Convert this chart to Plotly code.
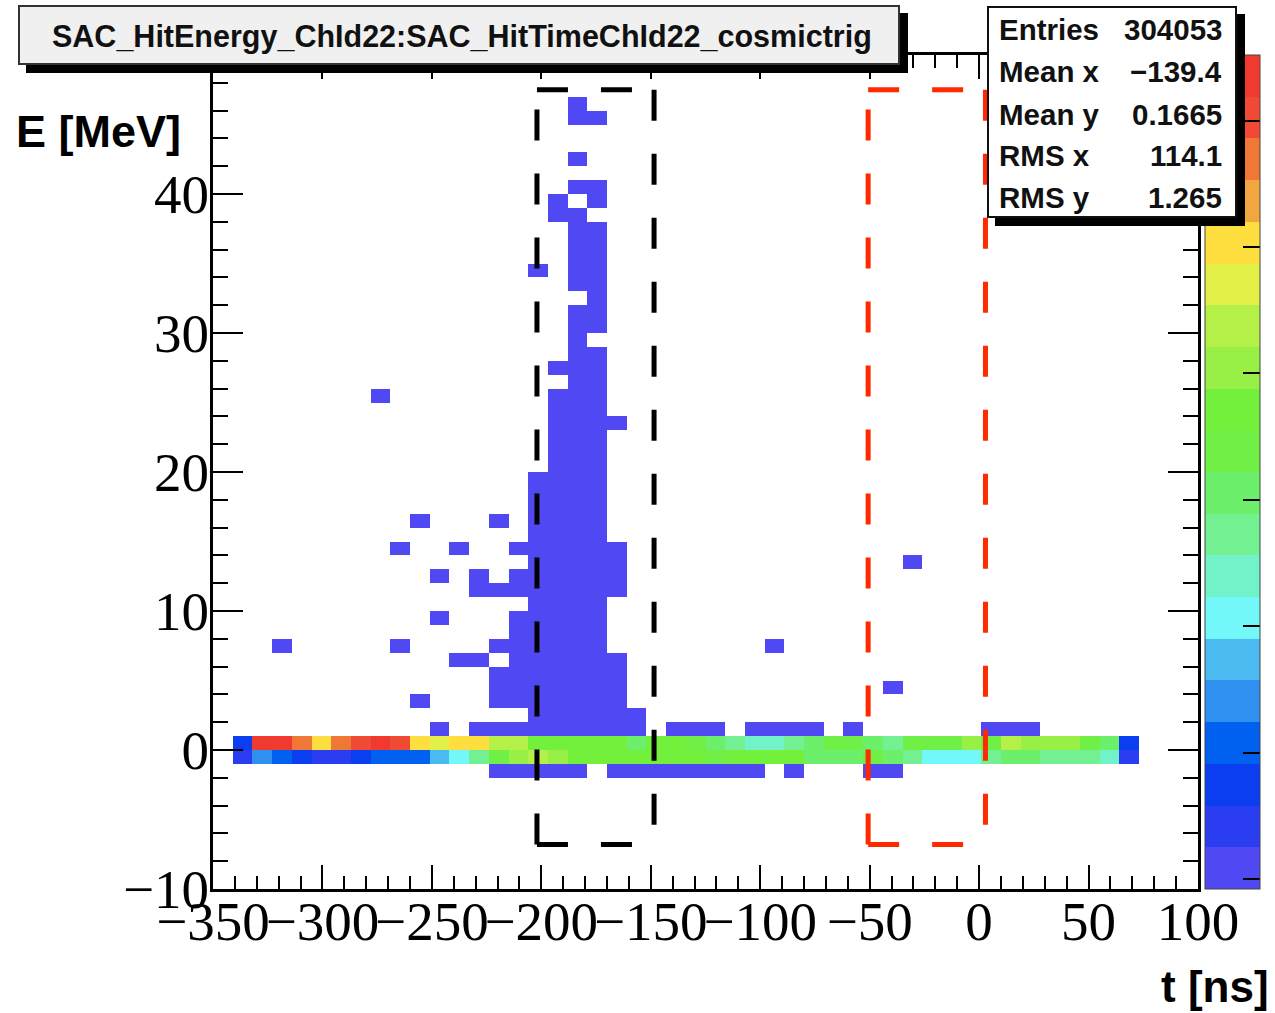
import numpy as np
import plotly.graph_objects as go

# ---------------- histogram definition ----------------
T_MIN, T_MAX, T_NBINS = -350.0, 100.0, 50      # t [ns]
E_MIN, E_MAX, E_NBINS = -10.0, 50.0, 60        # E [MeV]

# filled time bins (bin centers, ns) of the two dense energy rows
dense_t = [-336.5, -327.5, -318.5, -309.5, -300.5, -291.5, -282.5, -273.5, -264.5, -255.5,
           -246.5, -237.5, -228.5, -219.5, -210.5, -201.5, -192.5, -183.5, -174.5, -165.5,
           -156.5, -147.5, -138.5, -129.5, -120.5, -111.5, -102.5, -93.5, -84.5, -75.5,
           -66.5, -57.5, -48.5, -39.5, -30.5, -21.5, -12.5, -3.5, 5.5, 14.5,
           23.5, 32.5, 41.5, 50.5, 59.5, 68.5]

# counts in row 0 < E < 1 MeV
counts_E_0_1 = [810, 6480, 6420, 5760, 5090, 5800, 6110, 6440, 6150, 5140,
                4790, 5100, 5060, 4470, 4420, 3790, 3820, 3770, 3840, 3780,
                3160, 3810, 3750, 3480, 3140, 2810, 2470, 2500, 2790, 3170,
                3450, 3490, 3130, 2830, 3470, 3440, 3500, 4140, 3460, 4460,
                4110, 4150, 4120, 3480, 3160, 830]

# counts in row -1 < E < 0 MeV
counts_E_m1_0 = [490, 1480, 1160, 830, 510, 520, 800, 1140, 1170, 1130,
                 1820, 2140, 2810, 3450, 4120, 4440, 4150, 3800, 3770, 3830,
                 3790, 3810, 3760, 3800, 3470, 3820, 3780, 3790, 3810, 3150,
                 3130, 3170, 3440, 3160, 2820, 2160, 2130, 2170, 2790, 3140,
                 3180, 2800, 2830, 2780, 2490, 480]

# sparse cells (one entry each): energy row centre [MeV] and the time-bin centres [ns] hit in that row
sparse_E_rows = [46.5, 45.5, 42.5, 40.5, 39.5, 38.5, 37.5, 36.5, 35.5, 34.5,
                 33.5, 32.5, 31.5, 30.5, 29.5, 28.5, 27.5, 26.5, 25.5, 24.5,
                 23.5, 22.5, 21.5, 20.5, 19.5, 18.5, 17.5, 16.5, 15.5, 14.5,
                 13.5, 12.5, 11.5, 10.5, 9.5, 8.5, 7.5, 6.5, 5.5, 4.5,
                 3.5, 2.5, 1.5, -1.5]
sparse_t_rows = [
    [-183.5],
    [-183.5, -174.5],
    [-183.5],
    [-183.5, -174.5],
    [-192.5, -174.5],
    [-192.5, -183.5],
    [-183.5, -174.5],
    [-183.5, -174.5],
    [-183.5, -174.5],
    [-201.5, -183.5, -174.5],
    [-183.5, -174.5],
    [-174.5],
    [-183.5, -174.5],
    [-183.5, -174.5],
    [-183.5],
    [-183.5, -174.5],
    [-192.5, -183.5, -174.5],
    [-183.5, -174.5],
    [-273.5, -192.5, -183.5, -174.5],
    [-192.5, -183.5, -174.5],
    [-192.5, -183.5, -174.5, -165.5],
    [-192.5, -183.5, -174.5],
    [-192.5, -183.5, -174.5],
    [-192.5, -183.5, -174.5],
    [-201.5, -192.5, -183.5, -174.5],
    [-201.5, -192.5, -183.5, -174.5],
    [-201.5, -192.5, -183.5, -174.5],
    [-255.5, -219.5, -201.5, -192.5, -183.5, -174.5],
    [-201.5, -192.5, -183.5, -174.5],
    [-264.5, -237.5, -210.5, -201.5, -192.5, -183.5, -174.5, -165.5],
    [-201.5, -192.5, -183.5, -174.5, -165.5, -30.5],
    [-246.5, -228.5, -210.5, -201.5, -192.5, -183.5, -174.5, -165.5],
    [-228.5, -219.5, -210.5, -201.5, -192.5, -183.5, -174.5, -165.5],
    [-201.5, -192.5, -183.5, -174.5],
    [-246.5, -210.5, -201.5, -192.5, -183.5, -174.5],
    [-210.5, -201.5, -192.5, -183.5, -174.5],
    [-318.5, -264.5, -219.5, -210.5, -201.5, -192.5, -183.5, -174.5, -93.5],
    [-237.5, -228.5, -210.5, -201.5, -192.5, -183.5, -174.5, -165.5],
    [-219.5, -210.5, -201.5, -192.5, -183.5, -174.5, -165.5],
    [-219.5, -210.5, -201.5, -192.5, -183.5, -174.5, -165.5, -39.5],
    [-255.5, -219.5, -210.5, -201.5, -192.5, -183.5, -174.5, -165.5],
    [-201.5, -192.5, -183.5, -174.5, -165.5, -156.5],
    [-246.5, -228.5, -219.5, -210.5, -201.5, -192.5, -183.5, -174.5, -165.5, -156.5,
     -138.5, -129.5, -120.5, -102.5, -93.5, -84.5, -75.5, -57.5, 5.5, 14.5, 23.5],
    [-219.5, -210.5, -201.5, -192.5, -183.5, -165.5, -156.5, -147.5, -138.5, -129.5,
     -120.5, -111.5, -102.5, -84.5, -48.5, -39.5],
]

# highlighted time windows (overlay boxes): [t_lo, t_hi] in ns, [E_lo, E_hi] in MeV
box_black_t = [-202.0, -148.5]
box_red_t = [-50.7, 2.9]
box_E = [-6.8, 47.5]

y_tick_values = [-10, 0, 10, 20, 30, 40]
stats_labels = ["Entries", "Mean x", "Mean y", "RMS x", "RMS y"]
stats_values = ["304053", "\u2212139.4", "0.1665", "114.1", "1.265"]
title_text = "SAC_HitEnergy_ChId22:SAC_HitTimeChId22_cosmictrig"

# palette: 20 contour levels (bottom -> top)
palette = ["#5048F2", "#2A3DF0", "#0A3EF0", "#0060F0", "#3090F0", "#4ABAF0", "#72F8F8",
           "#72F2C8", "#72F092", "#6CF06C", "#70F046", "#72F03C", "#98F046", "#B4F048",
           "#E2F048", "#FFDF40", "#F2A640", "#F07836", "#F04A34", "#F03A30"]
Z_MAX = 6600

# ---------------- build the 2D histogram ----------------
t_edges = np.linspace(T_MIN, T_MAX, T_NBINS + 1)
e_edges = np.linspace(E_MIN, E_MAX, E_NBINS + 1)
t_cent = 0.5 * (t_edges[:-1] + t_edges[1:])
e_cent = 0.5 * (e_edges[:-1] + e_edges[1:])

ht, he, hw = [], [], []
for t, c in zip(dense_t, counts_E_0_1):
    ht.append(t); he.append(0.5); hw.append(c)
for t, c in zip(dense_t, counts_E_m1_0):
    ht.append(t); he.append(-0.5); hw.append(c)
for e, ts in zip(sparse_E_rows, sparse_t_rows):
    for t in ts:
        ht.append(t); he.append(e); hw.append(1)

H, _, _ = np.histogram2d(he, ht, bins=[e_edges, t_edges], weights=hw)
Z = np.where(H > 0, H, np.nan)

cs = []
n = len(palette)
for k, col in enumerate(palette):
    cs.append([k / n, col])
    cs.append([(k + 1) / n, col])

# ---------------- figure ----------------
W, HGT = 1275, 1013
L, R, T, B = 213, 1198, 55, 889


def px(x):
    return (x - L) / (R - L)


def py(y):
    return (B - y) / (B - T)


fig = go.Figure()
fig.add_trace(go.Heatmap(
    x=t_cent, y=e_cent, z=Z, zmin=0, zmax=Z_MAX, colorscale=cs, hoverinfo="skip",
    colorbar=dict(x=px(1205), xanchor="left", thickness=55, len=1, lenmode="fraction",
                  y=0.5, yanchor="middle", ypad=0, xpad=0,
                  outlinewidth=1, outlinecolor="#444",
                  ticks="inside", ticklen=17, tickwidth=2, tickcolor="black",
                  tick0=80, dtick=1000, showticklabels=False),
))

axis_common = dict(showline=True, linecolor="black", linewidth=3, mirror="ticks",
                   ticks="inside", tickcolor="black", tickwidth=2,
                   showgrid=False, zeroline=False, automargin=False, tickangle=0,
                   tickfont=dict(family="Liberation Serif", size=55, color="black"))

fig.update_xaxes(range=[T_MIN, T_MAX], tick0=0, dtick=50, ticklen=24,
                 ticklabelstandoff=-18,
                 minor=dict(ticks="inside", ticklen=13, dtick=10, tickwidth=2, tickcolor="black"),
                 **axis_common)
fig.update_yaxes(range=[E_MIN, E_MAX], tickmode="array", tickvals=y_tick_values, ticklen=30,
                 ticklabelstandoff=-10,
                 minor=dict(ticks="inside", ticklen=15, dtick=2, tickwidth=2, tickcolor="black"),
                 **axis_common)


# dashed selection boxes: drawn side by side so each side starts with a dash at its corner
def dashed_box(tr, er, color):
    t0, t1 = tr
    e0, e1 = er
    sides = [(t0, e1, t1, e1),   # top, left -> right
             (t0, e0, t0, e1),   # left, bottom -> top
             (t1, e1, t1, e0),   # right, top -> bottom
             (t0, e0, t1, e0)]   # bottom, left -> right
    for xa, ya, xb, yb in sides:
        fig.add_shape(type="line", xref="x", yref="y", x0=xa, y0=ya, x1=xb, y1=yb,
                      line=dict(color=color, width=5, dash="31px,33px"), layer="above")


dashed_box(box_black_t, box_E, "black")
dashed_box(box_red_t, box_E, "#FF2A00")

annotations = []


def box(x0, y0, x1, y1, fill, border, bw):
    annotations.append(dict(
        xref="paper", yref="paper", x=px(x0), y=py(y0), xanchor="left", yanchor="top",
        text=" ", showarrow=False, bgcolor=fill, bordercolor=border, borderwidth=bw,
        borderpad=0, width=(x1 - x0) - 2 * bw, height=(y1 - y0) - 2 * bw))


# title pave with shadow
box(26, 13, 908, 73, "black", "black", 0)
box(18, 5, 900, 65, "#F0F0F0", "#333333", 2)
annotations.append(dict(xref="paper", yref="paper", x=px(462), y=py(37), xanchor="center",
                        yanchor="middle", text=title_text, showarrow=False,
                        font=dict(family="Liberation Sans", size=30.5, color="#111111", weight="bold")))

# stats pave with shadow
box(995, 14, 1245, 226, "black", "black", 0)
box(987, 6, 1237, 218, "white", "#111111", 2)
row_y = [30, 72, 114, 155, 197]
for lab, val, yy in zip(stats_labels, stats_values, row_y):
    annotations.append(dict(xref="paper", yref="paper", x=px(997), y=py(yy), xanchor="left",
                            yanchor="middle", text=lab, showarrow=False,
                            font=dict(family="Liberation Sans", size=29.5, color="#111111", weight="bold")))
    annotations.append(dict(xref="paper", yref="paper", x=px(1224), y=py(yy), xanchor="right",
                            yanchor="middle", text=val, showarrow=False,
                            font=dict(family="Liberation Sans", size=29.5, color="#111111", weight="bold")))

# axis titles (overlay labels)
annotations.append(dict(xref="paper", yref="paper", x=px(14), y=py(131), xanchor="left",
                        yanchor="middle", text="E [MeV]", showarrow=False,
                        font=dict(family="Liberation Sans", size=45, color="black", weight="bold")))
annotations.append(dict(xref="paper", yref="paper", x=px(1271), y=py(986), xanchor="right",
                        yanchor="middle", text="t [ns]", showarrow=False,
                        font=dict(family="Liberation Sans", size=44, color="black", weight="bold")))

fig.update_layout(width=W, height=HGT,
                  margin=dict(l=L, r=W - R, t=T, b=HGT - B, autoexpand=False),
                  paper_bgcolor="white", plot_bgcolor="white", annotations=annotations,
                  showlegend=False)

fig.write_html("out.html")
